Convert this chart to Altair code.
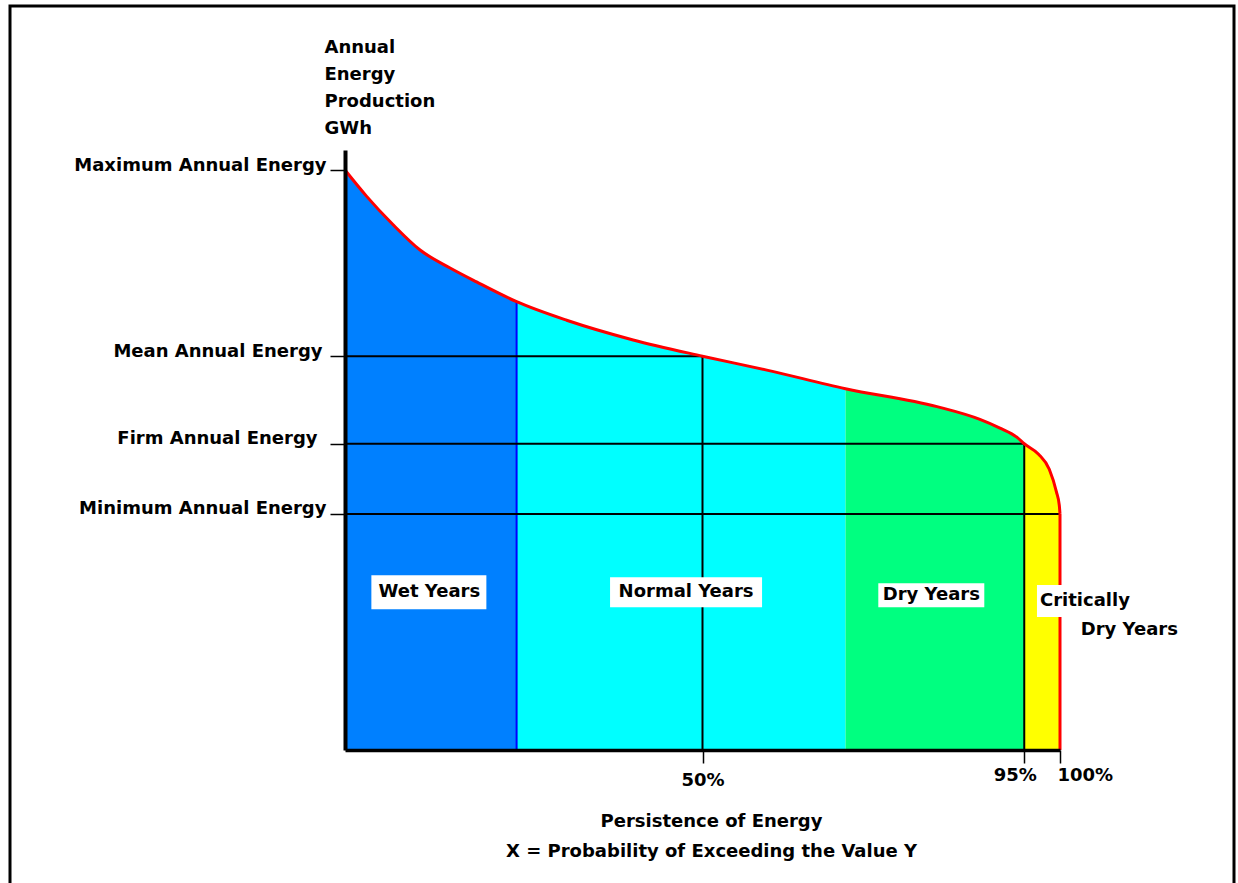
import altair as alt
import pandas as pd

# ---- data ----
# Exceedance (persistence) curve: % of time exceeded vs annual energy (relative GWh units)
persistence = [0, 3.0, 6.7, 10.5, 14.7, 18.4, 24, 31.0, 40.3, 50, 59.0, 70,
               82.8, 88.8, 91.6, 94.0, 95, 97.0, 98.5, 99.5, 99.9, 100]
energy = [100, 95.5, 90.6, 86.2, 83.1, 80.7, 77.3, 74.1, 70.7, 67.9, 65.5, 62.3,
          59.2, 57.0, 55.5, 53.9, 52.8, 51.0, 48.4, 44.5, 42.2, 40.7]

region_names = ["Wet Years", "Normal Years", "Dry Years", "Critically Dry Years"]
region_start = [0, 24, 70, 95]
region_end = [24, 70, 95, 100]
region_colors = ["#0080FF", "#00FFFF", "#00FF80", "#FFFF00"]

level_names = ["Maximum Annual Energy", "Mean Annual Energy", "Firm Annual Energy", "Minimum Annual Energy"]
level_values = [100, 67.9, 52.8, 40.7]
level_persistence = [0, 50, 95, 100]

x_ticks = [50, 95, 100]
x_tick_labels = ["50%", "95%", "100%"]

label_text = ["Wet Years", "Normal Years", "Dry Years", "Critically", "Dry Years"]
label_x = [11.8, 47.7, 82.0, 97.2, 102.9]
label_y = [27.2, 27.2, 26.7, 25.7, 20.7]

FONT = "DejaVu Sans"
FS = 18
FW = "bold"

# ---- tables ----
curve = pd.DataFrame({"p": persistence, "e": energy})
area_rows = []
for name, lo, hi in zip(region_names, region_start, region_end):
    for p, e in zip(persistence, energy):
        if lo <= p <= hi:
            area_rows.append({"p": p, "e": e, "region": name})
areas = pd.DataFrame(area_rows)

xscale = alt.Scale(domain=[0, 100], nice=False, zero=True)
yscale = alt.Scale(domain=[0, 103.45], nice=False, zero=True)

y_label_expr = " : ".join(f"datum.value == {v} ? '{n}'" for v, n in zip(level_values, level_names)) + " : ''"
x_label_expr = " : ".join(f"datum.value == {v} ? '{n}'" for v, n in zip(x_ticks, x_tick_labels)) + " : ''"

x_axis = alt.Axis(
    values=x_ticks, labelExpr=x_label_expr, grid=False, zindex=1,
    domainColor="black", domainWidth=3.5,
    tickColor="black", tickWidth=1.5, tickSize=13,
    labelFont=FONT, labelFontSize=FS, labelFontWeight=FW, labelColor="black",
    labelFlush=False, labelOverlap=False, labelBound=False, labelLimit=400,
    labelAlign={"condition": [{"test": "datum.value == 95", "value": "right"},
                              {"test": "datum.value == 100", "value": "left"}],
                "value": "center"},
    labelOffset={"condition": [{"test": "datum.value == 95", "value": 12},
                               {"test": "datum.value == 100", "value": -3}],
                 "value": 0},
    labelPadding={"condition": {"test": "datum.value == 50", "value": 8}, "value": 3},
    title=["Persistence of Energy", "X = Probability of Exceeding the Value Y"],
    titleFont=FONT, titleFontSize=FS, titleFontWeight=FW, titleColor="black",
    titleAlign="center", titleBaseline="top", titleX=366, titleY=62, titleLineHeight=30,
)

y_axis = alt.Axis(
    values=level_values, labelExpr=y_label_expr, grid=False, zindex=1,
    domainColor="black", domainWidth=4,
    tickColor="black", tickWidth=1.5, tickSize=15,
    labelFont=FONT, labelFontSize=FS, labelFontWeight=FW, labelColor="black",
    labelFlush=False, labelOverlap=False, labelBound=False, labelOffset=-5, labelLimit=400,
    labelPadding={"condition": [{"test": "datum.value == 67.9", "value": 8},
                                {"test": "datum.value == 52.8", "value": 13}],
                  "value": 4},
    title=["Annual", "Energy", "Production", "GWh"],
    titleFont=FONT, titleFontSize=FS, titleFontWeight=FW, titleColor="black",
    titleAngle=0, titleAlign="left", titleBaseline="top",
    titleX=-21, titleY=-112, titleLineHeight=27,
)


def X(field):
    return alt.X(field, scale=xscale, axis=x_axis)


def Y(field, **kw):
    return alt.Y(field, scale=yscale, axis=y_axis, **kw)


one = pd.DataFrame({"a": [0]})

frame = alt.Chart(one).mark_rect(fill="white", fillOpacity=0, stroke="black", strokeWidth=3).encode(
    x=alt.value(-335), x2=alt.value(889), y=alt.value(-144), y2=alt.value(760)
)

area = alt.Chart(areas).mark_area(interpolate="monotone").encode(
    x=X("p:Q"),
    y=Y("e:Q", stack=None),
    color=alt.Color("region:N", scale=alt.Scale(domain=region_names, range=region_colors), legend=None),
)

wet_edge = pd.DataFrame({"p": [region_end[0]], "e0": [0], "e1": [energy[persistence.index(region_end[0])]]})
blue_rule = alt.Chart(wet_edge).mark_rule(color="#0000FF", strokeWidth=2).encode(
    x=X("p:Q"), y=Y("e0:Q"), y2="e1:Q",
)

hlines = pd.DataFrame({"p0": [0, 0, 0], "p1": level_persistence[1:], "e": level_values[1:]})
h_rules = alt.Chart(hlines).mark_rule(color="black", strokeWidth=2).encode(
    x=X("p0:Q"), x2="p1:Q", y=Y("e:Q"),
)

vlines = pd.DataFrame({"p": level_persistence[1:3], "e0": [0, 0], "e1": level_values[1:3]})
v_rules = alt.Chart(vlines).mark_rule(color="black", strokeWidth=2).encode(
    x=X("p:Q"), y=Y("e0:Q"), y2="e1:Q",
)

red_line = alt.Chart(curve).mark_line(color="#FF0000", strokeWidth=3, interpolate="monotone").encode(
    x=X("p:Q"), y=Y("e:Q"),
)

red_edge = pd.DataFrame({"p": [100], "e0": [0], "e1": [energy[-1]]})
red_rule = alt.Chart(red_edge).mark_rule(color="#FF0000", strokeWidth=3).encode(
    x=X("p:Q"), y=Y("e0:Q"), y2="e1:Q",
)

# label boxes (pixel padding around text anchors) and texts
box_pad = [(-58, 57, 17), (-76, 76, 15), (-53, 53, 12), (-3, 89, 16)]
label_align = ["center", "center", "center", "left", "left"]
layers = [frame, area, blue_rule, h_rules, v_rules, red_line, red_rule]
for i, (l, r, h) in enumerate(box_pad):
    d = pd.DataFrame({"p": [label_x[i]], "e": [label_y[i]]})
    layers.append(
        alt.Chart(d).mark_rect(color="white", xOffset=l, x2Offset=r, yOffset=-h, y2Offset=h).encode(
            x=X("p:Q"), x2="p:Q", y=Y("e:Q"), y2="e:Q",
        )
    )
for i, t in enumerate(label_text):
    d = pd.DataFrame({"p": [label_x[i]], "e": [label_y[i]], "t": [t]})
    layers.append(
        alt.Chart(d).mark_text(align=label_align[i], baseline="middle", font=FONT, fontSize=FS,
                               fontWeight=FW, color="black").encode(
            x=X("p:Q"), y=Y("e:Q"), text="t:N",
        )
    )

chart = alt.layer(*layers).properties(
    width=715, height=600,
    autosize=alt.AutoSizeParams(type="none"),
    padding={"left": 345, "top": 150, "right": 178, "bottom": 133},
    background="white",
).configure_view(stroke=None)

chart.save("out.html", embed_options={"renderer": "svg", "actions": False})
